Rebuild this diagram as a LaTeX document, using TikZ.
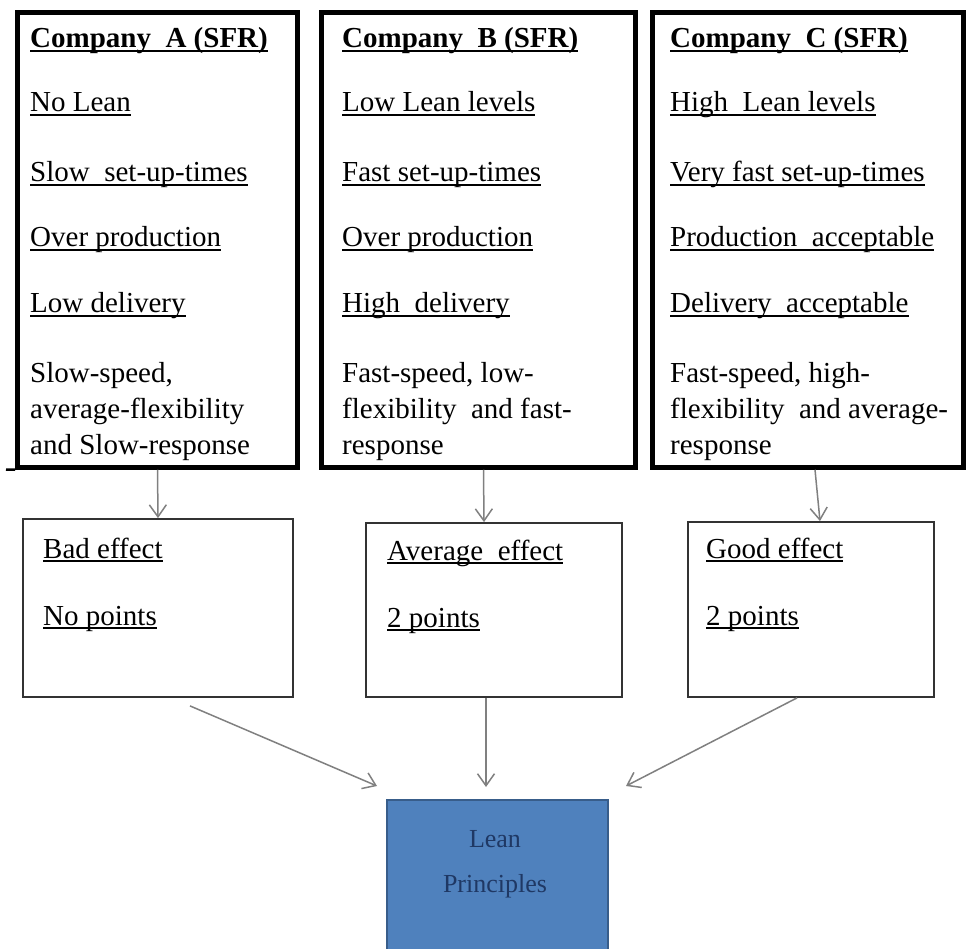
\documentclass[tikz,border=0pt]{standalone}
\usepackage{fontspec}
\setmainfont{Liberation Serif}
\usepackage{xcolor}
\usepackage{tikz}
\usetikzlibrary{arrows.meta}
\usetikzlibrary{calc}
\definecolor{leanblue}{HTML}{4F81BD}
\definecolor{leanedge}{HTML}{385D8A}
\definecolor{leantext}{HTML}{1F3864}
\definecolor{arrowgray}{HTML}{808080}
\newcommand{\ulin}[1]{\setbox0=\hbox{#1}\rlap{\rule[-3.6pt]{\wd0}{1.7pt}}\box0}
\newcommand{\bodyfont}{\fontsize{29}{34}\selectfont}
\newcommand{\leanfont}{\fontsize{26}{30}\selectfont}

\begin{document}
\begin{tikzpicture}[x=1pt,y=-1pt,
  company/.style={draw,line width=4.5pt,inner sep=0pt},
  effect/.style={draw=black!80,line width=1.8pt,inner sep=0pt},
  item/.style={anchor=base west,inner sep=0pt,font=\bodyfont},
  link/.style={draw=arrowgray,line width=1.5pt,-{Straight Barb[length=12pt,width=17pt]}}]
\clip (0,0) rectangle (969,949);
\fill[white] (0,0) rectangle (969,949);

% company boxes
\node[company,minimum width=280pt,minimum height=455pt] (A) at (157.5,240) {};
\node[company,minimum width=314pt,minimum height=455pt] (B) at (478.5,240) {};
\node[company,minimum width=311pt,minimum height=455pt] (C) at (808,240) {};
\draw[line width=2.5pt] (6,469.5) -- (A.south west);

\foreach \y/\t [count=\i] in {48/{\ulin{\textbf{Company~~A (SFR)}}}, 112/{\ulin{No Lean}},
    182/{\ulin{Slow~~set-up-times}}, 247/{\ulin{Over production}}, 313/{\ulin{Low delivery}},
    382/{Slow-speed,}, 418/{average-flexibility}, 454/{and Slow-response}}
  \node[item] (a\i) at (30,\y) {\t};
\foreach \y/\t [count=\i] in {48/{\ulin{\textbf{Company~~B (SFR)}}}, 112/{\ulin{Low Lean levels}},
    182/{\ulin{Fast set-up-times}}, 247/{\ulin{Over production}}, 313/{\ulin{High~~delivery}},
    382/{Fast-speed, low-}, 418/{flexibility~~and fast-}, 454/{response}}
  \node[item] (b\i) at (342,\y) {\t};
\foreach \y/\t [count=\i] in {48/{\ulin{\textbf{Company~~C (SFR)}}}, 112/{\ulin{High~~Lean levels}},
    182/{\ulin{Very fast set-up-times}}, 247/{\ulin{Production~~acceptable}}, 313/{\ulin{Delivery~~acceptable}},
    382/{Fast-speed, high-}, 418/{flexibility~~and average-}, 454/{response}}
  \node[item] (c\i) at (670,\y) {\t};

% effect boxes
\node[effect,minimum width=270pt,minimum height=178pt] (bad) at (158,608) {};
\node[effect,minimum width=256pt,minimum height=174pt] (avg) at (494,610) {};
\node[effect,minimum width=246pt,minimum height=175pt] (good) at (811,609.5) {};

\foreach \y/\t [count=\i] in {558/{\ulin{Bad effect}}, 625/{\ulin{No points}}}
  \node[item] (bad\i) at (43,\y) {\t};
\foreach \y/\t [count=\i] in {560/{\ulin{Average~~effect}}, 627/{\ulin{2 points}}}
  \node[item] (avg\i) at (387,\y) {\t};
\foreach \y/\t [count=\i] in {558/{\ulin{Good effect}}, 625/{\ulin{2 points}}}
  \node[item] (good\i) at (706,\y) {\t};

% lean principles
\node[draw=leanedge,fill=leanblue,line width=2pt,inner sep=0pt,
  minimum width=221pt,minimum height=160pt] (lean) at (497.5,880) {};
\node[anchor=base,inner sep=0pt,font=\leanfont,text=leantext] (lean1) at (495,847) {Lean};
\node[anchor=base,inner sep=0pt,font=\leanfont,text=leantext] (lean2) at (495,892) {Principles};

% arrows
\coordinate (tipA) at ($(lean.north west)+(-9,-13)$);
\coordinate (tipB) at ($(lean.north)+(-11.5,-12)$);
\coordinate (tipC) at ($(lean.north east)+(17,-13)$);
\draw[link] (A.south) -- (bad.north);
\draw[link] ([xshift=5pt]B.south) -- ([xshift=-10pt]avg.north);
\draw[link] ([xshift=7pt]C.south) -- ([xshift=9pt]good.north);
\draw[link] ([shift={(32,8)}]bad.south) -- (tipA);
\draw[link] (avg.south -| tipB) -- (tipB);
\draw[link] ([shift={(-14,0)}]good.south) -- (tipC);
\end{tikzpicture}
\end{document}
